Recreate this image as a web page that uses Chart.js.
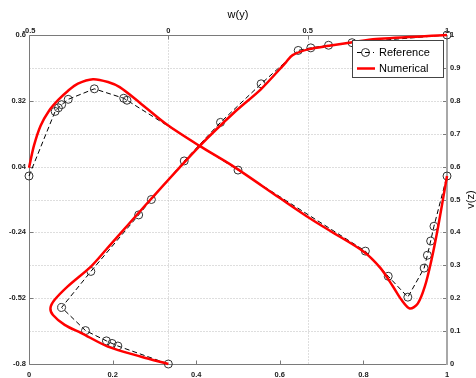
<!DOCTYPE html>
<html><head><meta charset="utf-8">
<script src="https://cdn.jsdelivr.net/npm/chart.js@4.4.1/dist/chart.umd.min.js"></script>
<style>html,body{margin:0;padding:0;background:#fff;overflow:hidden}#wrap{width:476px;height:378px}</style>
</head><body><div id="wrap"><canvas id="c" width="476" height="378"></canvas></div>
<script>
// Reference v along horizontal line (bottom x / left y)
const refV_x = [0, 0.0625, 0.0703, 0.0781, 0.0938, 0.1563, 0.2266, 0.2344, 0.5, 0.8047, 0.8594, 0.9063, 0.9453, 0.9531, 0.9609, 0.9688, 1.0];
const refV_v = [0, 0.27485, 0.29012, 0.30353, 0.32627, 0.37095, 0.33075, 0.32235, 0.02526, -0.31966, -0.42665, -0.5155, -0.39188, -0.33714, -0.27669, -0.21388, 0];
// Numerical v
const numV_x = [0, 0.012, 0.028, 0.048, 0.07, 0.093, 0.117, 0.153, 0.189, 0.217, 0.265, 0.329, 0.408, 0.488, 0.6, 0.664, 0.72, 0.8, 0.84, 0.87, 0.891, 0.911, 0.93, 0.947, 0.963, 0.979, 1.0];
const numV_v = [0.035, 0.13, 0.215, 0.278, 0.324, 0.362, 0.393, 0.412, 0.4, 0.378, 0.312, 0.22, 0.128, 0.042, -0.094, -0.171, -0.233, -0.321, -0.39, -0.468, -0.527, -0.564, -0.543, -0.47, -0.356, -0.214, 0.0];
// Reference w along vertical line (top x / right y)
const refU_w = [1.0, 0.65928, 0.57492, 0.51117, 0.46604, 0.33304, 0.18719, 0.05702, -0.0608, -0.10648, -0.27805, -0.38289, -0.2973, -0.2222, -0.20196, -0.18109, 0.0];
const refU_z = [1.0, 0.9766, 0.9688, 0.9609, 0.9531, 0.8516, 0.7344, 0.6172, 0.5, 0.4531, 0.2813, 0.1719, 0.1016, 0.0703, 0.0625, 0.0547, 0.0];
// Numerical w
const numU_w = [0.0, -0.097, -0.217, -0.312, -0.372, -0.414, -0.423, -0.408, -0.361, -0.277, -0.223, -0.067, 0.113, 0.242, 0.332, 0.422, 0.446, 0.505, 0.577, 0.661, 0.745, 1.0];
const numU_z = [0.0, 0.022, 0.053, 0.094, 0.119, 0.149, 0.17, 0.195, 0.236, 0.297, 0.348, 0.497, 0.663, 0.769, 0.835, 0.917, 0.939, 0.957, 0.967, 0.978, 0.988, 1.0];

const bottomTicks = [0, 0.2, 0.4, 0.6, 0.8, 1];
const leftTicks = [-0.8, -0.52, -0.24, 0.04, 0.32, 0.6];
const topTicks = [-0.5, 0, 0.5, 1];
const rightTicks = [0, 0.1, 0.2, 0.3, 0.4, 0.5, 0.6, 0.7, 0.8, 0.9, 1];
const seriesLabels = ['Reference', 'Numerical'];
const topTitle = 'w(y)';
const rightTitle = 'v(z)';

const pts = (xs, ys) => xs.map((x, i) => ({x: x, y: ys[i]}));
const FONT = '"Liberation Sans", Arial, sans-serif';

const refStyle = {
  showLine: true, borderColor: '#000', borderWidth: 1, borderDash: [5, 3], tension: 0,
  pointStyle: 'circle', pointRadius: 4, pointBorderColor: '#333', pointBorderWidth: 1,
  pointBackgroundColor: 'rgba(0,0,0,0)', clip: false, order: 1
};
const numStyle = {
  showLine: true, borderColor: '#ff0000', borderWidth: 2.5, pointRadius: 0, tension: 0.3,
  clip: false, order: 0
};

function fixTicks(arr) { return s => { s.ticks = arr.map(v => ({value: v})); }; }
const tickFont = {family: FONT, size: 7.5, weight: 'bold'};

const decor = {
  id: 'decor',
  beforeDatasetsDraw(chart) {
    const {ctx, chartArea: a, scales} = chart;
    const L = Math.round(a.left) + 0.5, R = Math.round(a.right), T = Math.round(a.top) + 0.5, B = Math.round(a.bottom) + 0.5;
    const line = (x1, y1, x2, y2) => { ctx.beginPath(); ctx.moveTo(x1, y1); ctx.lineTo(x2, y2); ctx.stroke(); };
    ctx.save();
    ctx.lineWidth = 1;
    ctx.strokeStyle = '#bcbcbc';
    ctx.setLineDash([1, 2]);
    rightTicks.forEach(v => { if (v <= 0 || v >= 1) return; const y = Math.round(scales.y2.getPixelForValue(v)) + 0.5; line(L, y, R, y); });
    topTicks.forEach(v => { if (v <= -0.5 || v >= 1) return; const x = Math.round(scales.x2.getPixelForValue(v)) + 0.5; line(x, T, x, B); });
    ctx.setLineDash([]);
    ctx.strokeStyle = '#7a7a7a';
    bottomTicks.forEach(v => { const x = Math.round(scales.x.getPixelForValue(v)) + 0.5; line(x, B, x, B - 4); });
    topTicks.forEach(v => { const x = Math.round(scales.x2.getPixelForValue(v)) + 0.5; line(x, T, x, T + 4); });
    leftTicks.forEach(v => { const y = Math.round(scales.y.getPixelForValue(v)) + 0.5; line(L, y, L + 4, y); });
    rightTicks.forEach(v => { const y = Math.round(scales.y2.getPixelForValue(v)) + 0.5; line(R, y, R - 4, y); });
    // frame
    line(L, T, L, B); line(L, B, R, B); line(L, T, R, T);
    ctx.strokeStyle = '#a8a8a8'; ctx.lineWidth = 2;
    line(R, T - 0.5, R, B + 0.5);
    ctx.restore();
  },
  afterDraw(chart) {
    const {ctx, chartArea: a} = chart;
    ctx.save();
    ctx.fillStyle = '#000';
    ctx.font = '11px ' + FONT;
    ctx.textAlign = 'center'; ctx.textBaseline = 'middle';
    ctx.fillText(topTitle, (a.left + a.right) / 2, 15);
    ctx.save();
    ctx.translate(471, (a.top + a.bottom) / 2);
    ctx.rotate(-Math.PI / 2);
    ctx.fillText(rightTitle, 0, 0);
    ctx.restore();
    // legend
    const bw = 91, bh = 37;
    const bx = Math.round(a.right) - 4 - bw, by = Math.round(a.top) + 5;
    ctx.fillStyle = '#fff';
    ctx.fillRect(bx, by, bw, bh);
    ctx.strokeStyle = '#444'; ctx.lineWidth = 1;
    ctx.strokeRect(bx + 0.5, by + 0.5, bw, bh);
    const y1 = by + 12.5, y2 = by + 28.5;
    ctx.strokeStyle = '#000'; ctx.setLineDash([5, 3]);
    ctx.beginPath(); ctx.moveTo(bx + 5, y1); ctx.lineTo(bx + 22, y1); ctx.stroke();
    ctx.setLineDash([]);
    ctx.strokeStyle = '#333';
    ctx.beginPath(); ctx.arc(bx + 13.5, y1, 4, 0, Math.PI * 2); ctx.stroke();
    ctx.strokeStyle = '#ff0000'; ctx.lineWidth = 2.5;
    ctx.beginPath(); ctx.moveTo(bx + 5, y2); ctx.lineTo(bx + 23, y2); ctx.stroke();
    ctx.fillStyle = '#000'; ctx.textAlign = 'left'; ctx.textBaseline = 'middle';
    ctx.font = '11px ' + FONT;
    ctx.fillText(seriesLabels[0], bx + 27, y1);
    ctx.fillText(seriesLabels[1], bx + 27, y2);
    ctx.restore();
  }
};

new Chart(document.getElementById('c'), {
  type: 'scatter',
  data: {
    datasets: [
      Object.assign({label: seriesLabels[0], data: pts(refV_x, refV_v), xAxisID: 'x', yAxisID: 'y'}, refStyle),
      Object.assign({label: seriesLabels[1], data: pts(numV_x, numV_v), xAxisID: 'x', yAxisID: 'y'}, numStyle),
      Object.assign({label: seriesLabels[0], data: pts(refU_w, refU_z), xAxisID: 'x2', yAxisID: 'y2'}, refStyle),
      Object.assign({label: seriesLabels[1], data: pts(numU_w, numU_z), xAxisID: 'x2', yAxisID: 'y2'}, numStyle)
    ]
  },
  options: {
    responsive: false, animation: false, devicePixelRatio: 1, events: [],
    layout: {padding: 0},
    plugins: {legend: {display: false}, tooltip: {enabled: false}, title: {display: false}},
    scales: {
      x: {type: 'linear', position: 'bottom', min: 0, max: 1, afterBuildTicks: fixTicks(bottomTicks),
          afterFit: s => { s.height = 14; },
          grid: {display: false, drawTicks: false}, border: {display: false},
          ticks: {font: tickFont, color: '#222', padding: 6, maxRotation: 0, autoSkip: false, callback: v => String(v)}},
      x2: {type: 'linear', position: 'top', min: -0.5, max: 1, afterBuildTicks: fixTicks(topTicks),
          afterFit: s => { s.height = 35; },
          grid: {display: false, drawTicks: false}, border: {display: false},
          ticks: {font: tickFont, color: '#222', padding: 0, maxRotation: 0, autoSkip: false, callback: v => String(v)}},
      y: {type: 'linear', position: 'left', min: -0.8, max: 0.6, afterBuildTicks: fixTicks(leftTicks),
          afterFit: s => { s.width = 29; },
          grid: {display: false, drawTicks: false}, border: {display: false},
          ticks: {font: tickFont, color: '#222', padding: 3, autoSkip: false, callback: v => String(v)}},
      y2: {type: 'linear', position: 'right', min: 0, max: 1, afterBuildTicks: fixTicks(rightTicks),
          afterFit: s => { s.width = 29; },
          grid: {display: false, drawTicks: false}, border: {display: false},
          ticks: {font: tickFont, color: '#222', padding: 3, autoSkip: false, callback: v => String(v)}}
    }
  },
  plugins: [decor]
});
</script></body></html>
